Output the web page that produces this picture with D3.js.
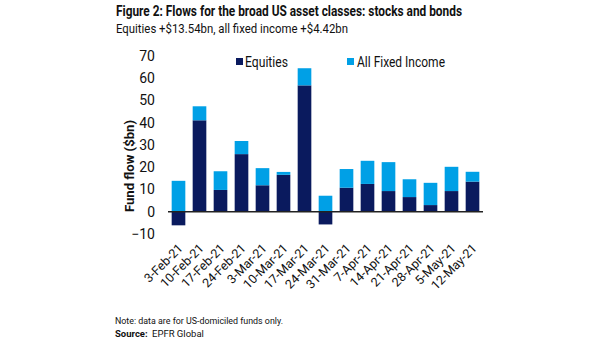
<!DOCTYPE html>
<html>
<head>
<meta charset="utf-8">
<script src="https://cdn.jsdelivr.net/npm/d3@7"></script>
<style>
  html, body { margin: 0; padding: 0; background: #fff; }
  svg { display: block; }
  text { font-family: Roboto, "Open Sans", sans-serif; }
</style>
</head>
<body>
<svg id="chart" width="605" height="341"></svg>
<script>
const categories = ["3-Feb-21","10-Feb-21","17-Feb-21","24-Feb-21","3-Mar-21","10-Mar-21","17-Mar-21","24-Mar-21","31-Mar-21","7-Apr-21","14-Apr-21","21-Apr-21","28-Apr-21","5-May-21","12-May-21"];
const equities    = [-6.1, 41.1, 9.8, 25.9, 11.9, 16.6, 56.8, -5.7, 10.8, 12.5, 9.3, 6.6, 3.0, 9.3, 13.54];
const fixedIncome = [13.9, 6.3, 8.4, 5.9, 7.7, 1.3, 7.7, 7.2, 8.4, 10.4, 13.0, 8.0, 10.0, 10.9, 4.42];
const yTicks = [-10, 0, 10, 20, 30, 40, 50, 60, 70];
const seriesNames = ["Equities", "All Fixed Income"];
const colors = ["#0a1a5e", "#00a0e6"];

const svg = d3.select("#chart");
const FONT = 'Roboto, "Open Sans", sans-serif';

const x = d3.scaleBand().domain(categories).range([168, 483]).paddingInner(0.35).paddingOuter(0.175);
const y = d3.scaleLinear().domain([-10, 70]).range([234, 56]);

// stacked data with diverging offset
const rows = categories.map((c, i) => ({cat: c, Equities: equities[i], "All Fixed Income": fixedIncome[i]}));
const stack = d3.stack().keys(seriesNames).offset(d3.stackOffsetDiverging);
const series = stack(rows);

svg.append("g").selectAll("g").data(series).join("g")
  .attr("fill", (d, i) => colors[i])
  .selectAll("rect").data(d => d).join("rect")
  .attr("x", d => x(d.data.cat))
  .attr("width", x.bandwidth())
  .attr("y", d => y(Math.max(d[0], d[1])))
  .attr("height", d => Math.abs(y(d[0]) - y(d[1])));

// zero line
svg.append("line")
  .attr("x1", 168).attr("x2", 483)
  .attr("y1", y(0)).attr("y2", y(0))
  .attr("stroke", "#222").attr("stroke-width", 1.3);

// y axis (labels only)
const yAxis = d3.axisLeft(y).tickValues(yTicks).tickSize(0).tickPadding(0);
const yg = svg.append("g").attr("transform", "translate(155,0)").call(yAxis);
yg.select(".domain").remove();
yg.selectAll("text").attr("font-size", 14).attr("fill", "#111").style("font-family", FONT);

// x axis labels
const xAxis = d3.axisBottom(x).tickSize(0).tickPadding(0);
const xg = svg.append("g").attr("transform", `translate(0,${y(-10)})`).call(xAxis);
xg.select(".domain").remove();
xg.selectAll("text")
  .attr("font-size", 12.5).attr("fill", "#111")
  .style("font-family", FONT)
  .attr("text-anchor", "end")
  .attr("transform", "translate(2,12) rotate(-45)")
  .attr("dy", "0.35em").attr("y", 0);

// y axis title
svg.append("text")
  .attr("transform", `translate(134,${(120 + 212) / 2}) rotate(-90)`)
  .attr("text-anchor", "middle")
  .attr("font-size", 13).attr("font-weight", "bold").attr("fill", "#111")
  .attr("textLength", 92).attr("lengthAdjust", "spacingAndGlyphs")
  .text("Fund flow ($bn)");

// legend
const legendPos = [[236, 245, 43], [347, 357, 88]];
seriesNames.forEach((n, i) => {
  svg.append("rect").attr("x", legendPos[i][0]).attr("y", 58).attr("width", 7).attr("height", 7).attr("fill", colors[i]);
  svg.append("text").attr("x", legendPos[i][1]).attr("y", 67)
    .attr("font-size", 14).attr("fill", "#111")
    .attr("textLength", legendPos[i][2]).attr("lengthAdjust", "spacingAndGlyphs")
    .text(n);
});

// title
svg.append("text").attr("x", 116).attr("y", 16)
  .attr("font-size", 14.5).attr("font-weight", "bold").attr("fill", "#111")
  .attr("textLength", 346).attr("lengthAdjust", "spacingAndGlyphs")
  .text("Figure 2: Flows for the broad US asset classes: stocks and bonds");
svg.append("text").attr("x", 116).attr("y", 33)
  .attr("font-size", 13.5).attr("fill", "#111")
  .attr("textLength", 232).attr("lengthAdjust", "spacingAndGlyphs")
  .text("Equities +$13.54bn, all fixed income +$4.42bn");

// notes
svg.append("text").attr("x", 115).attr("y", 324)
  .attr("font-size", 9.5).attr("fill", "#111")
  .attr("textLength", 168).attr("lengthAdjust", "spacingAndGlyphs")
  .text("Note: data are for US-domiciled funds  only.");
svg.append("text").attr("x", 115).attr("y", 337).attr("font-size", 9.5).attr("fill", "#111")
  .attr("font-weight", "bold").text("Source:");
svg.append("text").attr("x", 152).attr("y", 337).attr("font-size", 9.5).attr("fill", "#111")
  .text("EPFR Global");
</script>
</body>
</html>
